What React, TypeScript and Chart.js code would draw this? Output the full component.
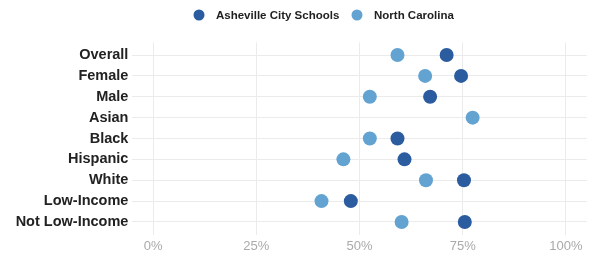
import React, { useEffect, useRef } from "react";
import { Chart, registerables } from "chart.js";

Chart.register(...registerables);

const categories = [
  "Overall",
  "Female",
  "Male",
  "Asian",
  "Black",
  "Hispanic",
  "White",
  "Low-Income",
  "Not Low-Income",
];
const seriesNames = ["Asheville City Schools", "North Carolina"];
const ashevilleValues: (number | null)[] = [0.711, 0.746, 0.671, null, 0.592, 0.609, 0.753, 0.479, 0.755];
const northCarolinaValues: (number | null)[] = [0.592, 0.659, 0.525, 0.774, 0.525, 0.461, 0.661, 0.408, 0.602];
const xTicks = [0, 0.25, 0.5, 0.75, 1];
const seriesColors = ["#2b5c9f", "#63a3d2"];

const FONT = "'Liberation Sans', Arial, sans-serif";

const customLegend = {
  id: "customLegend",
  afterDraw(chart: any) {
    const ctx = chart.ctx;
    const ds = chart.data.datasets;
    ctx.save();
    ctx.font = "bold 11.5px " + FONT;
    ctx.textBaseline = "middle";
    ctx.textAlign = "left";
    const y = 15;
    const starts = [199, 357];
    ds.forEach((d: any, i: number) => {
      const cx = starts[i];
      ctx.beginPath();
      ctx.arc(cx, y, 5.5, 0, Math.PI * 2);
      ctx.fillStyle = d.backgroundColor;
      ctx.fill();
      ctx.fillStyle = "#222222";
      ctx.fillText(d.label, cx + 17, y + 0.5);
    });
    ctx.restore();
  },
};

function toPoints(values: (number | null)[]) {
  const pts: { x: number; y: number }[] = [];
  values.forEach((v, i) => {
    if (v !== null) pts.push({ x: v, y: i });
  });
  return pts;
}

export default function App() {
  const canvasRef = useRef<HTMLCanvasElement | null>(null);

  useEffect(() => {
    document.body.style.margin = "0";
    const canvas = canvasRef.current;
    if (!canvas) return;
    const chart = new Chart(canvas, {
      type: "scatter",
      data: {
        datasets: [
          {
            label: seriesNames[0],
            data: toPoints(ashevilleValues),
            backgroundColor: seriesColors[0],
            borderColor: seriesColors[0],
            pointRadius: 7,
            pointHoverRadius: 7,
            borderWidth: 0,
          },
          {
            label: seriesNames[1],
            data: toPoints(northCarolinaValues),
            backgroundColor: seriesColors[1],
            borderColor: seriesColors[1],
            pointRadius: 7,
            pointHoverRadius: 7,
            borderWidth: 0,
          },
        ],
      },
      options: {
        animation: false,
        responsive: false,
        maintainAspectRatio: false,
        layout: { autoPadding: false, padding: { top: 42.5, right: 2.4, left: 0, bottom: 0 } },
        plugins: {
          legend: { display: false },
          tooltip: { enabled: false },
        },
        scales: {
          x: {
            type: "linear",
            min: -0.05,
            max: 1.05,
            border: { display: false },
            grid: { color: "#ebebeb", lineWidth: 1, drawTicks: false },
            afterBuildTicks: (scale: any) => {
              scale.ticks = xTicks.map((v) => ({ value: v }));
            },
            afterFit: (scale: any) => {
              scale.height = 19.5;
              scale.paddingLeft = 0;
              scale.paddingRight = 0;
            },
            ticks: {
              padding: 4,
              color: "#aaaaaa",
              font: { family: FONT, size: 13 },
              callback: (v: any) => Math.round(Number(v) * 100) + "%",
            },
          },
          y: {
            type: "linear",
            reverse: true,
            min: -0.6,
            max: categories.length - 1 + 0.6,
            border: { display: false },
            grid: { color: "#ebebeb", lineWidth: 1, drawTicks: false },
            afterBuildTicks: (scale: any) => {
              scale.ticks = categories.map((_, i) => ({ value: i }));
            },
            afterFit: (scale: any) => {
              scale.width = 132.4;
              scale.paddingTop = 0;
              scale.paddingBottom = 0;
            },
            ticks: {
              padding: 4,
              color: "#222222",
              font: { family: FONT, size: 14.5, weight: "bold" },
              callback: (v: any) => categories[Math.round(Number(v))] ?? "",
            },
          },
        },
      },
      plugins: [customLegend],
    } as any);
    return () => chart.destroy();
  }, []);

  return (
    <div style={{ width: 589, height: 254 }}>
      <canvas ref={canvasRef} width={589} height={254} style={{ display: "block" }} />
    </div>
  );
}
